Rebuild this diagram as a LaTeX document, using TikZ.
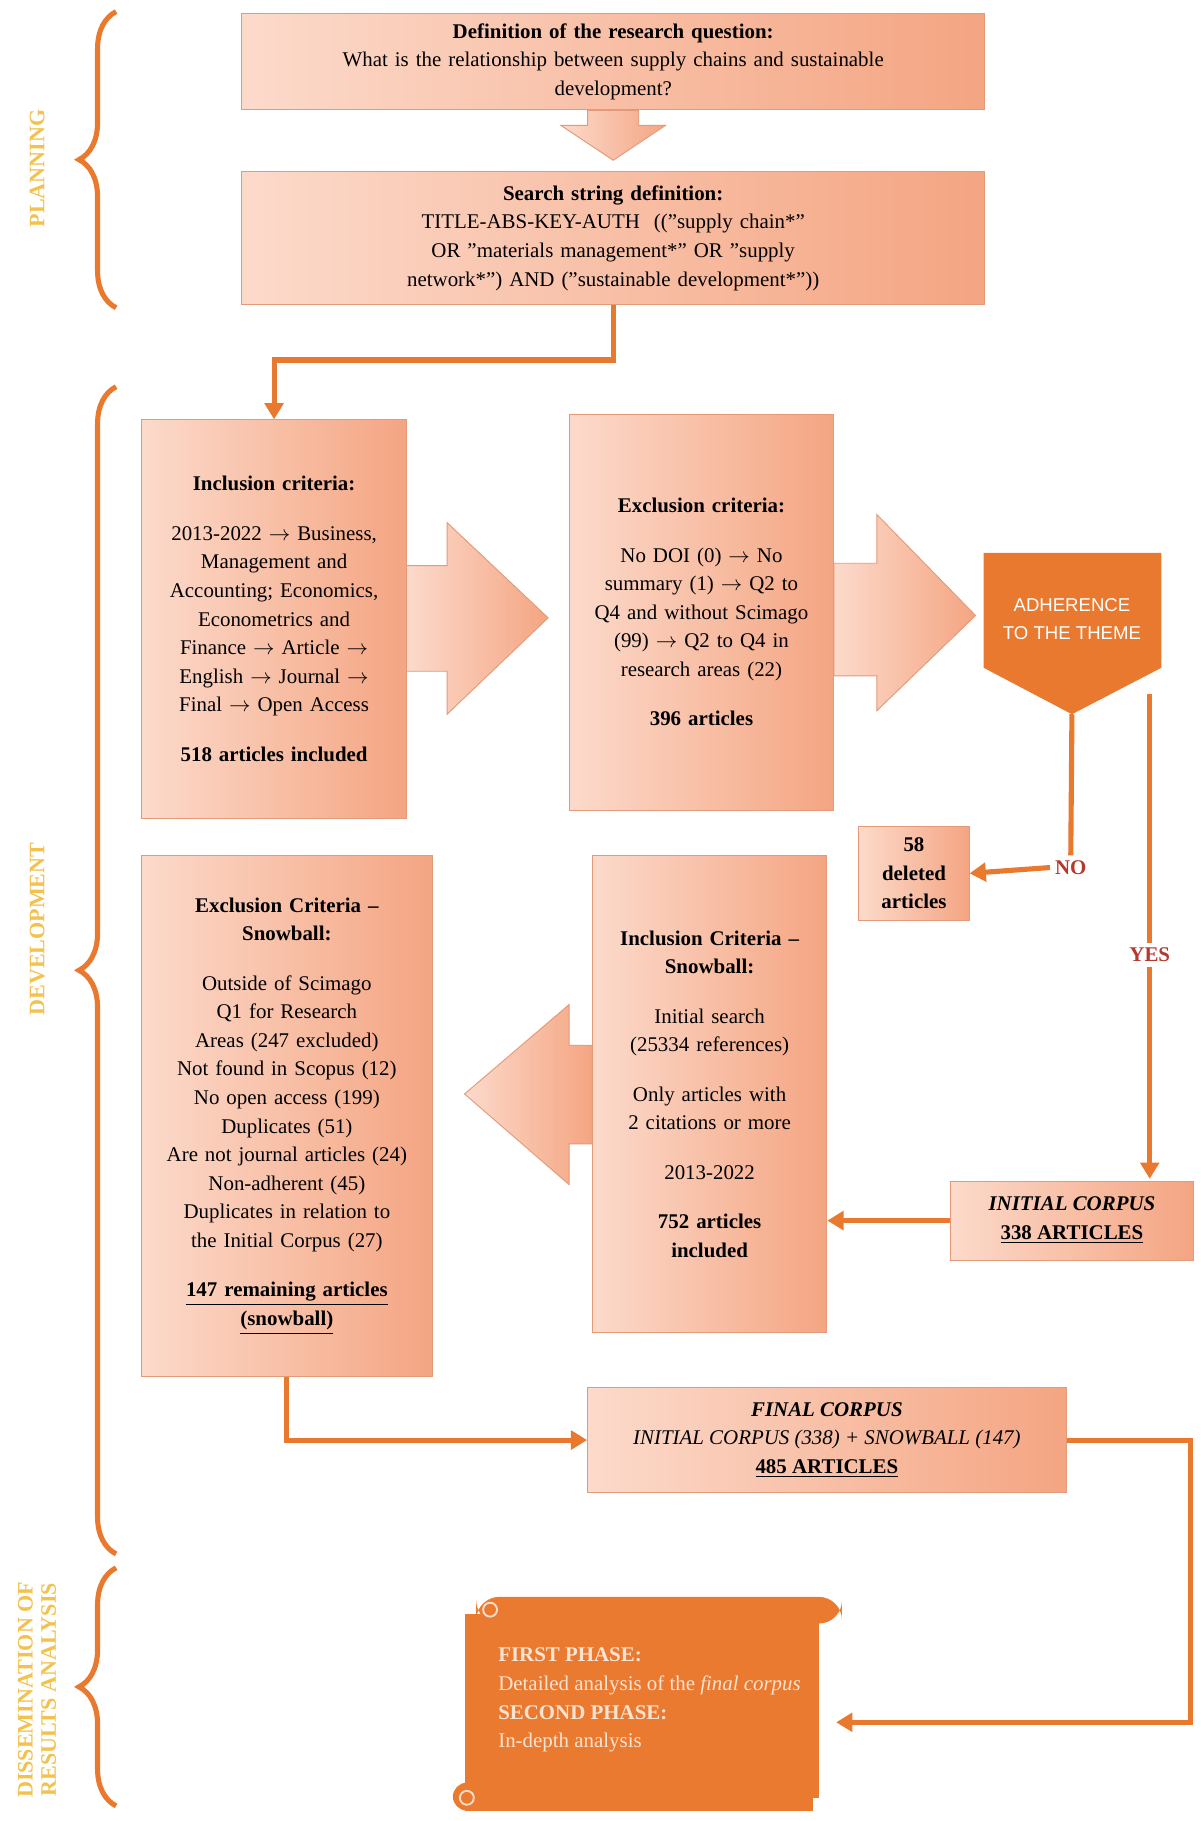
\documentclass[tikz,border=0pt]{standalone}
\usepackage{fontspec}
\defaultfontfeatures{}
\setmainfont{Liberation Serif}
\newfontfamily\sansf{Liberation Sans}
\usetikzlibrary{decorations.pathreplacing,arrows.meta}
\definecolor{ln}{HTML}{E8792F}
\definecolor{bd}{HTML}{E39A78}
\definecolor{cA}{HTML}{FCDACB}
\definecolor{cB}{HTML}{F4A582}
\definecolor{lab}{HTML}{F2C14E}
\definecolor{dr}{HTML}{B5392E}
\definecolor{scr}{HTML}{E97A30}
\definecolor{scrt}{HTML}{FCE3D2}
\begin{document}
\hyphenpenalty=10000 \exhyphenpenalty=10000
\begin{tikzpicture}[x=0.5pt,y=-0.5pt,
 box/.style={draw=bd,left color=cA,right color=cB,inner sep=3pt,align=center,font=\fontsize{9}{12.3}\selectfont},
 barr/.style={draw=bd,left color=cA,right color=cB},
 conn/.style={draw=ln,line width=2.2pt},
 arr/.style={conn,-{Triangle[length=7pt,width=8pt]}},
 brc/.style={draw=ln,line width=2.2pt,decorate,decoration={brace,amplitude=16pt}},
 phase/.style={text=lab,font=\bfseries\fontsize{9.5}{10}\selectfont,rotate=90,align=center}]
\useasboundingbox (0,0) rectangle (1034,1568);
% braces
\draw[brc] (100,265) -- (100,10);
\node[phase] (pl) at (32,145) {PLANNING};
\draw[brc] (100,1338) -- (100,333);
\node[phase] (dv) at (32,800) {DEVELOPMENT};
\draw[brc] (100,1555) -- (100,1350);
\node[phase] (ds) at (32,1455) {DISSEMINATION OF\\RESULTS ANALYSIS};
% block arrows
\draw[barr] (506,95) -- (550,95) -- (550,108) -- (573,108) -- (528,138) -- (483,108) -- (506,108) -- cycle;
\draw[barr] (350,487) -- (385,487) -- (385,450) -- (472,532) -- (385,615) -- (385,578) -- (350,578) -- cycle;
\draw[barr] (718,485) -- (755,485) -- (755,443) -- (840,530) -- (755,612) -- (755,582) -- (718,582) -- cycle;
\draw[barr] (510,900) -- (490,900) -- (490,865) -- (400,942) -- (490,1020) -- (490,985) -- (510,985) -- cycle;
% boxes
\node[box,minimum width=320pt,minimum height=41.5pt,text width=300pt] (q) at (528,53)
 {\textbf{Definition of the research question:}\\What is the relationship between supply chains and sustainable\\development?};
\node[box,minimum width=320pt,minimum height=57pt,text width=265pt] (s) at (528,205)
 {\textbf{Search string definition:}\\TITLE-ABS-KEY-AUTH\ \ (("supply chain*" OR "materials management*" OR "supply network*") AND ("sustainable development*"))};
\node[box,minimum width=114pt,minimum height=171.5pt,text width=104pt] (inc) at (236,533)
 {\textbf{Inclusion criteria:}\\[9pt]2013-2022 $\rightarrow$ Business, Management and Accounting; Economics, Econometrics and Finance $\rightarrow$ Article $\rightarrow$ English $\rightarrow$ Journal $\rightarrow$ Final $\rightarrow$ Open Access\\[9pt]\textbf{518 articles included}};
\node[box,minimum width=114pt,minimum height=170.5pt,text width=94pt] (exc) at (604,527)
 {\textbf{Exclusion criteria:}\\[9pt]No DOI (0) $\rightarrow$ No summary (1) $\rightarrow$ Q2 to Q4 and without Scimago (99) $\rightarrow$ Q2 to Q4 in research areas (22)\\[9pt]\textbf{396 articles}};
\fill[ln] (847,476) -- (1000,476) -- (1000,575) -- (923,615) -- (847,575) -- cycle;
\node[text=white,font=\sansf\fontsize{8}{12}\selectfont,align=center] (adh) at (923,533) {ADHERENCE\\TO THE THEME};
\coordinate (adhb) at (923,615);
\coordinate (adhr) at (990,598);
\node[box,minimum width=47.5pt,minimum height=40.5pt,font=\bfseries\fontsize{9}{12.3}\selectfont] (del) at (787,752) {58\\deleted\\articles};
\node[text=dr,font=\bfseries\fontsize{9}{10}\selectfont,inner sep=2pt] (no) at (922,747) {NO};
\node[text=dr,font=\bfseries\fontsize{9}{10}\selectfont,inner sep=2pt] (yes) at (990,822) {YES};
\node[box,minimum width=125.5pt,minimum height=224pt,text width=112pt] (exs) at (247,961)
 {\textbf{Exclusion Criteria –}\\\textbf{Snowball:}\\[9pt]Outside of Scimago Q1 for Research Areas (247 excluded)\\Not found in Scopus (12)\\No open access (199)\\Duplicates (51)\\Are not journal articles (24)\\Non-adherent (45)\\Duplicates in relation to the Initial Corpus (27)\\[9pt]\textbf{\underline{147 remaining articles}}\\\textbf{\underline{(snowball)}}};
\node[box,minimum width=101pt,minimum height=205.5pt,text width=92pt] (ins) at (611,942)
 {\textbf{Inclusion Criteria –}\\\textbf{Snowball:}\\[9pt]Initial search (25334 references)\\[9pt]Only articles with 2 citations or more\\[9pt]2013-2022\\[9pt]\textbf{752 articles}\\\textbf{included}};
\node[box,minimum width=105pt,minimum height=34pt] (ini) at (923,1051)
 {\textbf{\textit{INITIAL CORPUS}}\\\textbf{\underline{338 ARTICLES}}};
\node[box,minimum width=206pt,minimum height=45pt] (fin) at (712,1240)
 {\textbf{\textit{FINAL CORPUS}}\\\textit{INITIAL CORPUS (338) + SNOWBALL (147)}\\\textbf{\underline{485 ARTICLES}}};
% scroll
\fill[scr] (400,1390) rectangle (705,1548);
\fill[scr,rounded corners=10pt] (410,1375) rectangle (725,1398);
\fill[scr] (402,1547) circle (12);
\fill[scr] (400,1540) rectangle (700,1559);
\draw[white!75!scr,line width=0.8pt] (422,1386) circle (6);
\draw[white!75!scr,line width=0.8pt] (402,1548) circle (6);
\node[text=scrt,font=\fontsize{9}{12.3}\selectfont,text width=135pt,align=justify,anchor=north west] (ph) at (422,1412)
 {\textbf{FIRST PHASE:}\\Detailed analysis of the \textit{final corpus}\\\textbf{SECOND PHASE:}\\In-depth analysis};
\coordinate (scrr) at (720,1483);
% connectors
\draw[arr] (s.south) -- (528,310) -| (inc.north);
\draw[conn] (adhb) -- (no.north);
\draw[arr] (no.west) -- (del.east);
\draw[conn] (adhr) -- (yes.north);
\draw[arr] (yes.south) -- (990,1015);
\draw[arr] (ini.west) -- (ins.east |- ini.west);
\draw[arr] (exs.south) |- (fin.west);
\draw[arr] (fin.east) -- (1025,1240) |- (scrr);
\end{tikzpicture}
\end{document}
